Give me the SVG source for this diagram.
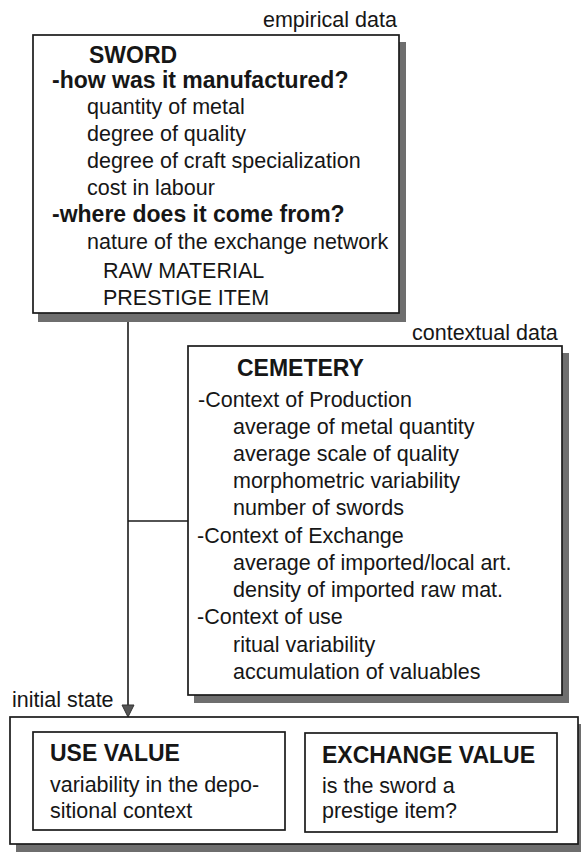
<svg xmlns="http://www.w3.org/2000/svg" width="581" height="852" viewBox="0 0 581 852">
<style>
text{font-family:"Liberation Sans",Arial,sans-serif;font-size:21.5px;fill:#161616}
.b{font-weight:bold;font-size:23px}
.box{fill:#fff;stroke:#1a1a1a;stroke-width:1.7}
.sh{fill:#6e6e6e}
.ln{stroke:#1a1a1a;stroke-width:1.6;fill:none}
</style>
<rect width="581" height="852" fill="#fff"/>
<g id="connectors">
<line class="ln" x1="128" y1="320" x2="128" y2="706"/>
<line class="ln" x1="128" y1="521" x2="188" y2="521"/>
<polygon points="122,705 134,705 128,717" fill="#555" stroke="#333" stroke-width="1"/>
</g>
<g id="sword">
<text x="263" y="27">empirical data</text>
<rect class="sh" x="38" y="42" width="368" height="280"/>
<rect class="box" x="33" y="35" width="366" height="278"/>
<text class="b" x="89" y="63">SWORD</text>
<text class="b" x="52" y="88">-how was it manufactured?</text>
<text x="87" y="114">quantity of metal</text>
<text x="87" y="141">degree of quality</text>
<text x="87" y="168">degree of craft specialization</text>
<text x="87" y="195">cost in labour</text>
<text class="b" x="52" y="222">-where does it come from?</text>
<text x="87" y="249">nature of the exchange network</text>
<text x="103" y="278">RAW MATERIAL</text>
<text x="103" y="305">PRESTIGE ITEM</text>
</g>
<g id="cemetery">
<text x="412" y="340">contextual data</text>
<rect class="sh" x="194" y="353" width="375" height="350"/>
<rect class="box" x="188" y="346" width="374" height="349"/>
<text class="b" x="237" y="376">CEMETERY</text>
<text x="198" y="407">-Context of Production</text>
<text x="233" y="434">average of metal quantity</text>
<text x="233" y="461">average scale of quality</text>
<text x="233" y="488">morphometric variability</text>
<text x="233" y="515">number of swords</text>
<text x="197" y="543">-Context of Exchange</text>
<text x="233" y="570">average of imported/local art.</text>
<text x="233" y="597">density of imported raw mat.</text>
<text x="197" y="624">-Context of use</text>
<text x="233" y="652">ritual variability</text>
<text x="233" y="679">accumulation of valuables</text>
</g>
<g id="initial-state">
<text x="12" y="707">initial state</text>
<rect class="sh" x="16" y="724" width="569" height="128"/>
<rect class="box" x="10" y="717" width="568" height="127"/>
</g>
<g id="use-value">
<rect class="box" x="33" y="732" width="252" height="98"/>
<text class="b" x="50" y="761">USE VALUE</text>
<text x="50" y="792">variability in the depo-</text>
<text x="50" y="818">sitional context</text>
</g>
<g id="exchange-value">
<rect class="box" x="305" y="733" width="252" height="99"/>
<text class="b" x="322" y="763">EXCHANGE VALUE</text>
<text x="322" y="793">is the sword a</text>
<text x="322" y="818">prestige item?</text>
</g>
</svg>
